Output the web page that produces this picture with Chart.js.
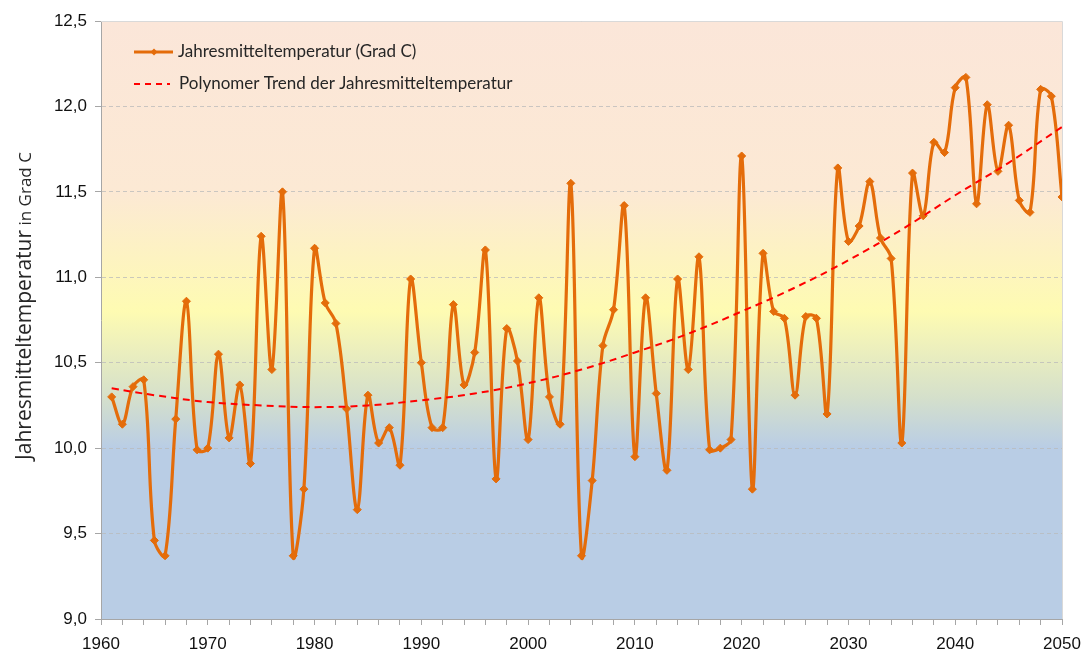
<!DOCTYPE html>
<html>
<head>
<meta charset="utf-8">
<script src="https://cdn.jsdelivr.net/npm/chart.js@4.4.0/dist/chart.umd.min.js"></script>
<style>
  html, body { margin: 0; padding: 0; background: #fff; }
  #wrap { width: 1085px; height: 655px; position: relative; }
</style>
</head>
<body>
<div id="wrap"><canvas id="tempChart"></canvas></div>
<script>
// values
const years = [
  1961, 1962, 1963, 1964, 1965, 1966, 1967, 1968, 1969, 1970,
  1971, 1972, 1973, 1974, 1975, 1976, 1977, 1978, 1979, 1980,
  1981, 1982, 1983, 1984, 1985, 1986, 1987, 1988, 1989, 1990,
  1991, 1992, 1993, 1994, 1995, 1996, 1997, 1998, 1999, 2000,
  2001, 2002, 2003, 2004, 2005, 2006, 2007, 2008, 2009, 2010,
  2011, 2012, 2013, 2014, 2015, 2016, 2017, 2018, 2019, 2020,
  2021, 2022, 2023, 2024, 2025, 2026, 2027, 2028, 2029, 2030,
  2031, 2032, 2033, 2034, 2035, 2036, 2037, 2038, 2039, 2040,
  2041, 2042, 2043, 2044, 2045, 2046, 2047, 2048, 2049, 2050
];
const temperatures = [
  10.30, 10.14, 10.36, 10.40, 9.46, 9.37, 10.17, 10.86, 9.99, 10.00,
  10.55, 10.06, 10.37, 9.91, 11.24, 10.46, 11.50, 9.37, 9.76, 11.17,
  10.85, 10.73, 10.23, 9.64, 10.31, 10.03, 10.12, 9.90, 10.99, 10.50,
  10.12, 10.12, 10.84, 10.37, 10.56, 11.16, 9.82, 10.70, 10.51, 10.05,
  10.88, 10.30, 10.14, 11.55, 9.37, 9.81, 10.60, 10.81, 11.42, 9.95,
  10.88, 10.32, 9.87, 10.99, 10.46, 11.12, 9.99, 10.00, 10.05, 11.71,
  9.76, 11.14, 10.80, 10.76, 10.31, 10.77, 10.76, 10.20, 11.64, 11.21,
  11.30, 11.56, 11.23, 11.11, 10.03, 11.61, 11.36, 11.79, 11.73, 12.11,
  12.17, 11.43, 12.01, 11.62, 11.89, 11.45, 11.38, 12.10, 12.06, 11.47
];
const trendYears = [1961, 1965, 1970, 1975, 1980, 1985, 1990, 1995, 2000, 2005,
                    2010, 2015, 2020, 2025, 2030, 2035, 2040, 2045, 2050];
const trendValues = [10.35, 10.31, 10.27, 10.25, 10.24, 10.25, 10.28, 10.32, 10.38, 10.46,
                     10.56, 10.67, 10.80, 10.94, 11.10, 11.28, 11.48, 11.67, 11.88];
const seriesNames = ['Jahresmitteltemperatur (Grad C)', 'Polynomer Trend der Jahresmitteltemperatur'];
const yTitleMain = 'Jahresmitteltemperatur';
const yTitleUnit = 'in Grad C';

const orange = '#e46c0a';
const red = '#ff0000';

// background bands: peach on top, yellow in the middle, blue below 10
const bgStops = [
  { v: 12.5, c: '#fbe6d9' },
  { v: 11.5, c: '#fce9d4' },
  { v: 10.8, c: '#fefbb2' },
  { v: 10.3, c: '#d5e0cb' },
  { v: 10.0, c: '#b9cde5' },
  { v: 9.0, c: '#b9cde5' }
];

const backgroundPlugin = {
  id: 'plotBackground',
  beforeDraw(chart) {
    const { ctx, chartArea: a, scales } = chart;
    const g = ctx.createLinearGradient(0, a.top, 0, a.bottom);
    bgStops.forEach(s => {
      const p = (scales.y.getPixelForValue(s.v) - a.top) / (a.bottom - a.top);
      g.addColorStop(Math.min(1, Math.max(0, p)), s.c);
    });
    ctx.save();
    ctx.fillStyle = g;
    ctx.fillRect(a.left, a.top, a.right - a.left, a.bottom - a.top);
    ctx.restore();
  },
  afterDraw(chart) {
    const { ctx, chartArea: a } = chart;
    ctx.save();
    ctx.strokeStyle = '#d9d9d9';
    ctx.lineWidth = 1;
    ctx.beginPath();
    ctx.moveTo(a.left, a.top + 0.5);
    ctx.lineTo(a.right + 0.5, a.top + 0.5);
    ctx.lineTo(a.right + 0.5, a.bottom);
    ctx.stroke();
    ctx.restore();
  }
};

const legendPlugin = {
  id: 'innerLegend',
  afterDraw(chart) {
    const ctx = chart.ctx;
    ctx.save();
    ctx.font = '17px Lato';
    ctx.textBaseline = 'middle';

    // row 1
    ctx.strokeStyle = orange;
    ctx.lineWidth = 3;
    ctx.beginPath();
    ctx.moveTo(134, 52);
    ctx.lineTo(173, 52);
    ctx.stroke();
    ctx.fillStyle = orange;
    ctx.beginPath();
    ctx.moveTo(154, 48.5);
    ctx.lineTo(157.5, 52);
    ctx.lineTo(154, 55.5);
    ctx.lineTo(150.5, 52);
    ctx.closePath();
    ctx.fill();
    ctx.fillStyle = '#262626';
    ctx.fillText(seriesNames[0], 178, 52);

    // row 2
    ctx.strokeStyle = red;
    ctx.lineWidth = 2;
    ctx.setLineDash([6, 5]);
    ctx.beginPath();
    ctx.moveTo(134, 84);
    ctx.lineTo(170, 84);
    ctx.stroke();
    ctx.setLineDash([]);
    ctx.fillText(seriesNames[1], 179, 84);
    ctx.restore();
  }
};

const yTitlePlugin = {
  id: 'yTitle',
  afterDraw(chart) {
    const ctx = chart.ctx;
    const mainFont = '21px "Open Sans"';
    const unitFont = '17px "Open Sans"';
    ctx.save();
    ctx.translate(31, 306);
    ctx.rotate(-Math.PI / 2);
    ctx.fillStyle = '#262626';
    ctx.textBaseline = 'alphabetic';
    ctx.font = mainFont;
    const w1 = ctx.measureText(yTitleMain).width;
    ctx.font = unitFont;
    const w2 = ctx.measureText(' ' + yTitleUnit).width;
    const x = -(w1 + w2) / 2;
    ctx.font = mainFont;
    ctx.fillText(yTitleMain, x, 0);
    ctx.font = unitFont;
    ctx.fillText(' ' + yTitleUnit, x + w1, 0);
    ctx.restore();
  }
};

new Chart(document.getElementById('tempChart'), {
  type: 'line',
  data: {
    datasets: [
      {
        label: seriesNames[1],
        data: trendYears.map((yr, i) => ({ x: yr, y: trendValues[i] })),
        borderColor: red,
        borderWidth: 2,
        borderDash: [7, 5],
        pointRadius: 0,
        tension: 0.4,
        fill: false,
        order: 0
      },
      {
        label: seriesNames[0],
        data: years.map((yr, i) => ({ x: yr, y: temperatures[i] })),
        borderColor: orange,
        backgroundColor: orange,
        borderWidth: 3.2,
        pointStyle: 'rectRot',
        pointRadius: 4,
        pointBackgroundColor: orange,
        pointBorderColor: orange,
        pointBorderWidth: 1,
        tension: 0.35,
        fill: false,
        order: 1
      }
    ]
  },
  options: {
    responsive: true,
    maintainAspectRatio: false,
    animation: false,
    layout: { padding: { top: 21, right: 23, left: 0, bottom: 0 } },
    plugins: {
      legend: { display: false },
      tooltip: { enabled: false }
    },
    scales: {
      x: {
        type: 'linear',
        min: 1960,
        max: 2050,
        afterFit: scale => {
          scale.height = 36;
          // keep the plot right edge where the reference has it
          scale.paddingRight = 20;
          scale.paddingLeft = 20;
        },
        ticks: {
          stepSize: 2,
          autoSkip: false,
          maxRotation: 0,
          padding: 9,
          color: '#111',
          font: { family: '"Liberation Sans", Arial', size: 17 },
          callback: v => (v % 10 === 0 ? String(v) : '')
        },
        grid: {
          drawOnChartArea: false,
          drawTicks: true,
          tickLength: 6,
          tickColor: '#a6a6a6'
        },
        border: { color: '#a6a6a6', width: 1 }
      },
      y: {
        min: 9,
        max: 12.5,
        afterFit: scale => { scale.width = 101; },
        ticks: {
          stepSize: 0.5,
          padding: 8,
          color: '#111',
          font: { family: '"Liberation Sans", Arial', size: 17 },
          callback: v => v.toFixed(1).replace('.', ',')
        },
        grid: {
          color: 'rgba(185,185,185,0.75)',
          tickLength: 6,
          tickColor: '#a6a6a6',
          tickBorderDash: []
        },
        // in v4 border.dash dashes the grid lines
        border: { color: '#a6a6a6', width: 1, dash: [4, 3] }
      }
    }
  },
  plugins: [backgroundPlugin, legendPlugin, yTitlePlugin]
});
</script>
</body>
</html>
